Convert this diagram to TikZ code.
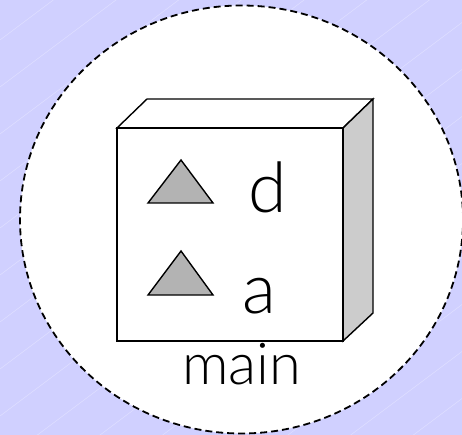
\documentclass[tikz,border=0pt]{standalone}
\usepackage{fontspec}
\setmainfont{Lato}[UprightFont=* Light]
\usetikzlibrary{shapes.geometric}
\definecolor{bgc}{RGB}{208,208,255}
\definecolor{sidec}{RGB}{204,204,204}
\definecolor{tric}{RGB}{179,179,179}
\tikzset{
  edge/.style={draw=black, line width=1.4bp, line join=miter},
  tri/.style={edge, fill=tric},
  lbl/.style={anchor=base, inner sep=0pt, font=\fontsize{70}{70}\selectfont},
  zonestyle/.style={ellipse, draw=black, fill=white, line width=1.8bp, dash pattern=on 7bp off 4bp, inner sep=0pt},
}
\begin{document}
\begin{tikzpicture}[x=1bp,y=-1bp]
\useasboundingbox (0,0) rectangle (462,435);
\fill[bgc] (0,0) rectangle (462,435);
\begin{scope}
\clip (0,0) rectangle (462,435);
\foreach \k in {-10,...,20}{
  \draw[white, opacity=0.35, line width=0.5bp] (0,40+47*\k) -- (600,40+47*\k-450);
}
\end{scope}
\node[zonestyle, minimum width=443bp, minimum height=428bp] (zone) at (241.5,219.5) {};
% box
\coordinate (fa) at (117,128);
\coordinate (fb) at (343,128);
\coordinate (fc) at (343,341);
\coordinate (fd) at (117,341);
\coordinate (ba) at (147,99);
\coordinate (bb) at (373,99);
\coordinate (bc) at (373,313);
\draw[edge, fill=white] (fa) -- (ba) -- (bb) -- (fb) -- cycle;
\draw[edge, fill=sidec] (fb) -- (bb) -- (bc) -- (fc) -- cycle;
\draw[edge, fill=white] (fa) rectangle (fc);
% triangles
\draw[tri] (148,203) -- (181,160) -- (213,203) -- cycle;
\draw[tri] (148,295) -- (181,251) -- (213,295) -- cycle;
\node[lbl] (d) at (268,213) {d};
\node[lbl] (a) at (259,313) {a};
\node[lbl, font=\fontsize{58}{58}\selectfont] (main) at (242,384) {main};
\end{tikzpicture}
\end{document}
